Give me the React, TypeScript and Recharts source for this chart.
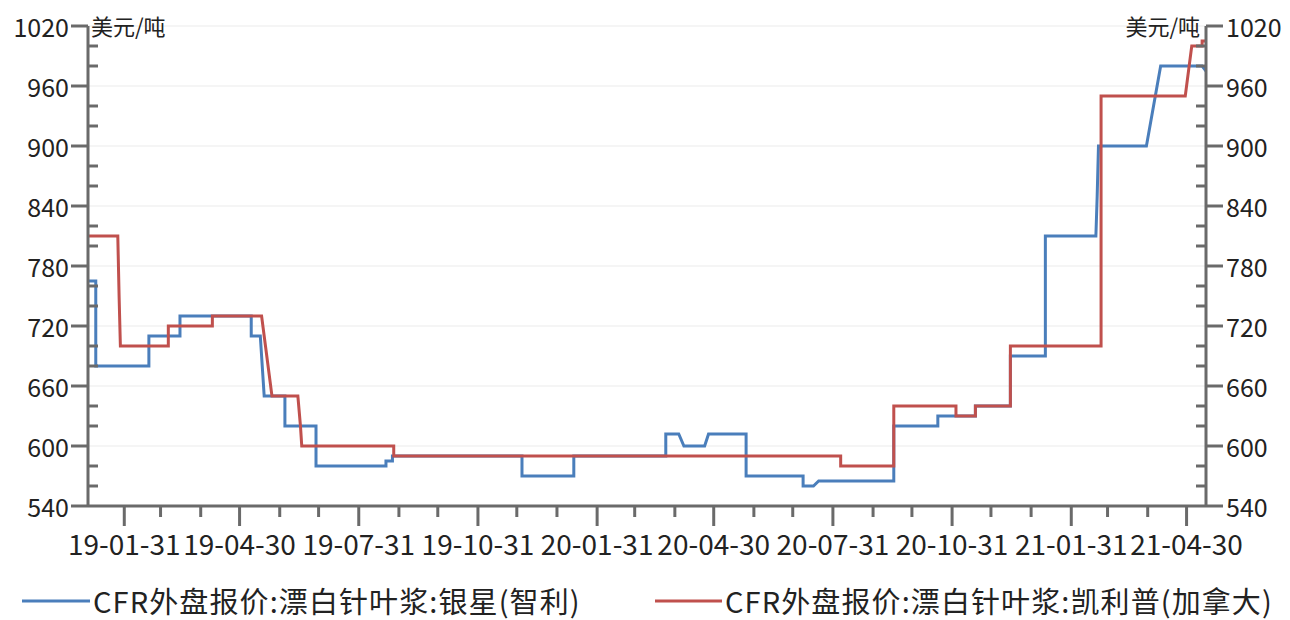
import { LineChart, Line, XAxis, YAxis, ReferenceLine } from 'recharts';

// 银星(智利) price change points
const silverStarDates = [
    '2019-01-03', '2019-01-09', '2019-01-09', '2019-02-19', '2019-02-19', '2019-03-15', '2019-03-15',
    '2019-05-09', '2019-05-09', '2019-05-16', '2019-05-19', '2019-06-04', '2019-06-04', '2019-06-28',
    '2019-06-28', '2019-08-21', '2019-08-21', '2019-08-26', '2019-08-26', '2019-12-04', '2019-12-04',
    '2020-01-13', '2020-01-13', '2020-03-24', '2020-03-24', '2020-04-03', '2020-04-07', '2020-04-23',
    '2020-04-26', '2020-05-25', '2020-05-25', '2020-07-08', '2020-07-08', '2020-07-16', '2020-07-20',
    '2020-09-16', '2020-09-16', '2020-10-20', '2020-10-20', '2020-11-18', '2020-11-18', '2020-12-15',
    '2020-12-15', '2021-01-11', '2021-01-11', '2021-02-19', '2021-02-20', '2021-02-21', '2021-03-30',
    '2021-04-10', '2021-05-12', '2021-05-15',
];
const silverStarPrices = [
    765, 765, 680, 680, 710, 710, 730,
    730, 710, 710, 650, 650, 620, 620,
    580, 580, 585, 585, 590, 590, 570,
    570, 590, 590, 612, 612, 600, 600,
    612, 612, 570, 570, 560, 560, 565,
    565, 620, 620, 630, 630, 640, 640,
    690, 690, 810, 810, 850, 900, 900,
    980, 980, 975,
];

// 凯利普(加拿大) price change points
const canforDates = [
    '2019-01-03', '2019-01-26', '2019-01-27', '2019-01-28', '2019-03-06', '2019-03-06', '2019-04-09',
    '2019-04-09', '2019-05-17', '2019-05-20', '2019-05-25', '2019-06-14', '2019-06-16', '2019-06-17',
    '2019-08-27', '2019-08-27', '2020-08-06', '2020-08-06', '2020-09-16', '2020-09-16', '2020-11-03',
    '2020-11-03', '2020-11-18', '2020-11-18', '2020-12-15', '2020-12-15', '2021-02-23', '2021-02-23',
    '2021-04-29', '2021-05-04', '2021-05-12', '2021-05-12', '2021-05-15',
];
const canforPrices = [
    810, 810, 750, 700, 700, 720, 720,
    730, 730, 700, 650, 650, 620, 600,
    600, 590, 590, 580, 580, 640, 640,
    630, 630, 640, 640, 700, 700, 950,
    950, 1000, 1000, 1005, 1005,
];

const monthEnds = [
    '2019-01-31', '2019-02-28', '2019-03-31', '2019-04-30', '2019-05-31', '2019-06-30', '2019-07-31',
    '2019-08-31', '2019-09-30', '2019-10-31', '2019-11-30', '2019-12-31', '2020-01-31', '2020-02-29',
    '2020-03-31', '2020-04-30', '2020-05-31', '2020-06-30', '2020-07-31', '2020-08-31', '2020-09-30',
    '2020-10-31', '2020-11-30', '2020-12-31', '2021-01-31', '2021-02-28', '2021-03-31', '2021-04-30',
];
const yTicks = [540, 560, 580, 600, 620, 640, 660, 680, 700, 720, 740, 760, 780, 800, 820, 840, 860, 880, 900, 920, 940, 960, 980, 1000, 1020];
const yMajor = [540, 600, 660, 720, 780, 840, 900, 960, 1020];

const seriesNames = ['CFR外盘报价:漂白针叶浆:银星(智利)', 'CFR外盘报价:漂白针叶浆:凯利普(加拿大)'];
const unitLabel = '美元/吨';

const BLUE = '#4a7ebb';
const RED = '#c0504d';
const AXIS = '#6a6a6a';
const TEXT = '#222';
const FONT = '"Noto Sans CJK SC", "Noto Sans", sans-serif';

const toTs = (s: string) => {
    const [y, m, d] = s.split('-').map(Number);
    return Date.UTC(y, m - 1, d);
};

const silverStar = silverStarDates.map((d, i) => ({ t: toTs(d), v: silverStarPrices[i] }));
const canfor = canforDates.map((d, i) => ({ t: toTs(d), v: canforPrices[i] }));
const xTicks = monthEnds.map(toTs);
const xDomain = [toTs('2019-01-03'), toTs('2021-05-15')];

const fmtDate = (ts: number) => {
    const d = new Date(ts);
    const p = (n: number) => String(n).padStart(2, '0');
    return `${p(d.getUTCFullYear() % 100)}-${p(d.getUTCMonth() + 1)}-${p(d.getUTCDate())}`;
};

const MonthTick = ({ x, y, payload }: any) => {
    const major = (new Date(payload.value).getUTCMonth() + 1) % 3 === 1;
    return (
        <g>
            <line x1={x} x2={x} y1={y} y2={y + (major ? 20 : 11)} stroke={AXIS} strokeWidth={3} />
            {major && (
                <text x={x} y={y + 37} textAnchor="middle" dominantBaseline="central"
                    fontSize={28} fill={TEXT} fontFamily={FONT}>
                    {fmtDate(payload.value)}
                </text>
            )}
        </g>
    );
};

const LeftTick = ({ x, y, payload }: any) => {
    const major = yMajor.includes(payload.value);
    return (
        <g>
            {major
                ? <line x1={x - 17} x2={x} y1={y} y2={y} stroke={AXIS} strokeWidth={3} />
                : <line x1={x} x2={x + 10} y1={y} y2={y} stroke={AXIS} strokeWidth={3} />}
            {major && (
                <text x={x - 19} y={y} textAnchor="end" dominantBaseline="central"
                    fontSize={25} fill={TEXT} fontFamily={FONT}>{payload.value}</text>
            )}
        </g>
    );
};

const RightTick = ({ x, y, payload }: any) => {
    const major = yMajor.includes(payload.value);
    return (
        <g>
            {major
                ? <line x1={x} x2={x + 17} y1={y} y2={y} stroke={AXIS} strokeWidth={3} />
                : <line x1={x - 10} x2={x} y1={y} y2={y} stroke={AXIS} strokeWidth={3} />}
            {major && (
                <text x={x + 20} y={y} textAnchor="start" dominantBaseline="central"
                    fontSize={25} fill={TEXT} fontFamily={FONT}>{payload.value}</text>
            )}
        </g>
    );
};

export default function App() {
    return (
        <div style={{ position: 'absolute', left: 0, top: 0, width: 1290, height: 620, background: '#fff', fontFamily: FONT }}>
            <LineChart width={1290} height={620}
                margin={{ top: 26, right: 0, left: 0, bottom: 54 }}>
                {yMajor.map(v => (
                    <ReferenceLine key={v} yAxisId="left" y={v} stroke="#ebebeb" strokeWidth={1} />
                ))}
                <XAxis dataKey="t" type="number" domain={xDomain} ticks={xTicks} interval={0}
                    height={60} tick={<MonthTick />} tickLine={false} tickSize={0} tickMargin={0}
                    axisLine={{ stroke: AXIS, strokeWidth: 3 }} allowDataOverflow />
                <YAxis yAxisId="left" domain={[540, 1020]} ticks={yTicks} interval={0} width={88}
                    tick={<LeftTick />} tickLine={false} tickSize={0} tickMargin={0} allowDataOverflow
                    axisLine={{ stroke: AXIS, strokeWidth: 3 }} />
                <YAxis yAxisId="right" orientation="right" domain={[540, 1020]} ticks={yTicks} interval={0} width={84}
                    tick={<RightTick />} tickLine={false} tickSize={0} tickMargin={0} allowDataOverflow
                    axisLine={{ stroke: AXIS, strokeWidth: 3 }} />
                <Line yAxisId="left" data={silverStar} dataKey="v" type="linear" stroke={BLUE}
                    strokeWidth={3} dot={false} activeDot={false} isAnimationActive={false} />
                <Line yAxisId="right" data={canfor} dataKey="v" type="linear" stroke={RED}
                    strokeWidth={3} dot={false} activeDot={false} isAnimationActive={false} />
            </LineChart>
            <svg width={1290} height={620} style={{ position: 'absolute', left: 0, top: 0, pointerEvents: 'none' }}>
                <text x={91} y={25} dominantBaseline="central" fontSize={22} fill={TEXT} fontFamily={FONT}>{unitLabel}</text>
                <text x={1200} y={25} textAnchor="end" dominantBaseline="central" fontSize={22} fill={TEXT} fontFamily={FONT}>{unitLabel}</text>
                <line x1={22} x2={90} y1={601} y2={601} stroke={BLUE} strokeWidth={3} />
                <text x={93} y={600} dominantBaseline="central" fontSize={29} letterSpacing={1.1} fill={TEXT} fontFamily={FONT}>{seriesNames[0]}</text>
                <line x1={655} x2={722} y1={601} y2={601} stroke={RED} strokeWidth={3} />
                <text x={725} y={600} dominantBaseline="central" fontSize={29} letterSpacing={1.1} fill={TEXT} fontFamily={FONT}>{seriesNames[1]}</text>
            </svg>
        </div>
    );
}
